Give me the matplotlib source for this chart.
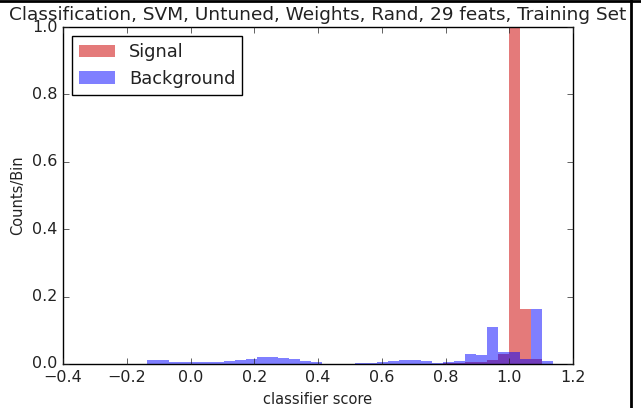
import matplotlib.pyplot as plt
import numpy as np
from matplotlib.lines import Line2D

# Histogram bins shared by both classes (37 bins)
bin_edges = np.linspace(-0.1375, 1.1375, 38)

# Normalised counts per bin
signal_counts = [0, 0, 0, 0, 0, 0, 0, 0, 0, 0,
                 0, 0, 0, 0, 0, 0, 0, 0, 0, 0,
                 0, 0, 0, 0, 0, 0, 0, 0.004, 0.004, 0.005,
                 0.006, 0.012, 0.030, 1.4, 0.163, 0.015, 0]
background_counts = [0.013, 0.013, 0.006, 0.006, 0.005, 0.005, 0.006, 0.008, 0.011, 0.015,
                     0.021, 0.021, 0.018, 0.014, 0.009, 0.005, 0, 0, 0, 0.004,
                     0.004, 0.005, 0.009, 0.012, 0.012, 0.008, 0.004, 0.007, 0.009, 0.031,
                     0.028, 0.111, 0.036, 0.036, 0.015, 0.163, 0.009]

title = 'Classification, SVM, Untuned, Weights, Rand, 29 feats, Training Set'

plt.style.use('classic')
fig = plt.figure(figsize=(6.41, 4.08), dpi=100, facecolor='white')
ax = fig.add_axes([63/641, 1-364/408, 510/641, 337/408])

centers = bin_edges[:-1]
ax.hist(centers, bins=bin_edges, weights=signal_counts, color='#cc0000',
        alpha=0.52, linewidth=0, histtype='stepfilled', label='Signal')
ax.hist(centers, bins=bin_edges, weights=background_counts, color='blue',
        alpha=0.5, linewidth=0, histtype='stepfilled', label='Background')

ax.set_xlim(-0.4, 1.2)
ax.set_ylim(0, 1.0)
ax.set_xticks(np.arange(-0.4, 1.21, 0.2))
ax.set_yticks(np.arange(0, 1.01, 0.2))
ax.tick_params(labelsize=11.5, colors='#222222')
ax.set_xlabel('classifier score', fontsize=10.5, color='#222222')
ax.set_ylabel('Counts/Bin', fontsize=10.5, color='#222222')
ax.set_title(title, fontsize=13.3, color='#222222')
leg = ax.legend(loc='upper left', fontsize=12.8, frameon=True, fancybox=False)
for t in leg.get_texts():
    t.set_color('#222222')

# screenshot border
fig.add_artist(Line2D([0, 1], [0.997, 0.997], color='black', lw=2))
fig.add_artist(Line2D([0.984, 0.984], [0, 1], color='black', lw=2))

fig.savefig('out.png', dpi=100, facecolor='white')
